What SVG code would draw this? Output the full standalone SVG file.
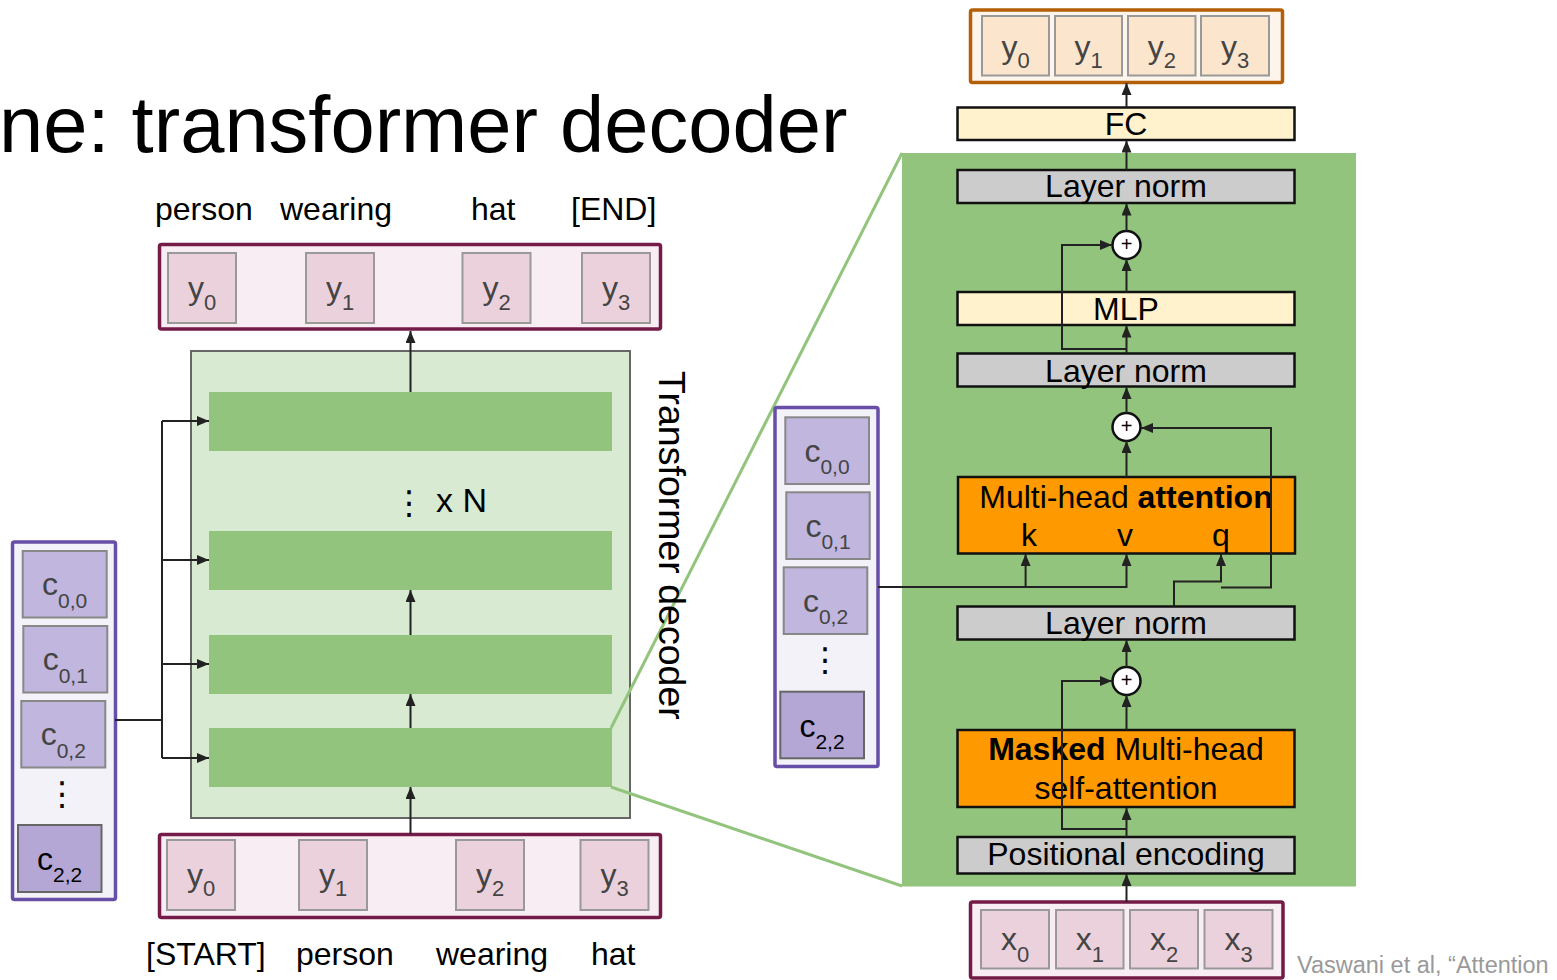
<svg xmlns="http://www.w3.org/2000/svg" width="1557" height="980" viewBox="0 0 1557 980">
<defs>
  <marker id="ah" viewBox="0 0 12 10" refX="12" refY="5" markerWidth="12" markerHeight="10" markerUnits="userSpaceOnUse" orient="auto">
    <path d="M0,0 L12,5 L0,10 z" fill="#222"/>
  </marker>
  <style>
    text { font-family: "Liberation Sans", Arial, sans-serif; }
    .lbl { font-size: 32px; fill: #000; }
    .bx { font-size: 32px; fill: #000; text-anchor: middle; }
    .tok { font-size: 32px; fill: #444; text-anchor: middle; }
    .tokd { font-size: 32px; fill: #000; text-anchor: middle; }
    .sub { font-size: 22px; }
    .csub { font-size: 21px; }
    .dots { font-family: "DejaVu Sans", sans-serif; font-size: 33px; fill: #000; text-anchor: middle; }
    .seqY { fill: #f8edf3; stroke: #741b47; stroke-width: 3.5; }
    .cellY { fill: #ead1dc; stroke: #999; stroke-width: 2; }
    .seqO { fill: #fdf4ec; stroke: #b45f06; stroke-width: 3.5; }
    .cellO { fill: #fce5cd; stroke: #999; stroke-width: 2; }
    .seqC { fill: #f3f2f8; stroke: #674ea7; stroke-width: 3.5; }
    .cellC { fill: #c0b6de; stroke: #888; stroke-width: 2; }
    .cellCd { fill: #b4a7d6; stroke: #666; stroke-width: 2; }
    .bar { fill: #93c47d; }
    .ln { fill: #cccccc; stroke: #111; stroke-width: 2.5; }
    .ff { fill: #fff2cc; stroke: #111; stroke-width: 2.5; }
    .att { fill: #ff9900; stroke: #111; stroke-width: 2.5; }
    .plus { fill: #fff; stroke: #111; stroke-width: 2.5; }
    .pt { font-size: 20px; fill: #000; text-anchor: middle; }
    .cn { fill: none; stroke: #222; stroke-width: 2; }
    .zoomline { stroke: #93c47d; stroke-width: 3; fill: none; }
  </style>
</defs>

<rect width="1557" height="980" fill="#fff"/>

<!-- slide title (partially off the left edge) -->
<text x="-1" y="152" style="font-size:79.5px" fill="#000">ne: transformer decoder</text>

<!-- expanded decoder block panel -->
<rect id="block-panel" x="902" y="153" width="454" height="733.5" fill="#93c47d"/>

<!-- ===== left: stacked decoder ===== -->
<g id="decoder-stack">
  <rect x="191" y="351" width="439" height="467" fill="#d9ead3" stroke="#666" stroke-width="2"/>
  <rect class="bar" x="209" y="392" width="403" height="59"/>
  <rect class="bar" x="209" y="531" width="403" height="59"/>
  <rect class="bar" x="209" y="635" width="403" height="59"/>
  <rect class="bar" x="209" y="728" width="403" height="59"/>
  <text class="dots" x="409" y="514">⋮</text>
  <text x="436" y="512" style="font-size:34px" fill="#000">x N</text>
</g>

<!-- lines tying one decoder layer to its expanded view -->
<g id="zoom-lines">
  <line class="zoomline" x1="611" y1="728" x2="902" y2="153"/>
  <line class="zoomline" x1="611" y1="787" x2="902" y2="886"/>
</g>

<text id="decoder-title" transform="translate(659,371) rotate(90)" style="font-size:37.5px" fill="#000">Transformer decoder</text>

<!-- output tokens -->
<g id="out-words">
  <text class="lbl" x="155" y="220">person</text>
  <text class="lbl" x="280" y="220">wearing</text>
  <text class="lbl" x="471" y="220">hat</text>
  <text class="lbl" x="571" y="220">[END]</text>
</g>
<g id="out-seq">
  <rect class="seqY" x="159.5" y="244.5" width="501" height="84.5" rx="2"/>
  <rect class="cellY" x="168" y="253" width="68" height="70"/>
  <rect class="cellY" x="306" y="253" width="68" height="70"/>
  <rect class="cellY" x="462.5" y="253" width="68" height="70"/>
  <rect class="cellY" x="582" y="253" width="68" height="70"/>
  <text class="tok" x="202" y="299">y<tspan class="sub" dy="11">0</tspan></text>
  <text class="tok" x="340" y="299">y<tspan class="sub" dy="11">1</tspan></text>
  <text class="tok" x="496.5" y="299">y<tspan class="sub" dy="11">2</tspan></text>
  <text class="tok" x="616" y="299">y<tspan class="sub" dy="11">3</tspan></text>
</g>

<!-- input tokens -->
<g id="in-seq">
  <rect class="seqY" x="159.5" y="834.5" width="501" height="83" rx="2"/>
  <rect class="cellY" x="167" y="840" width="68" height="70"/>
  <rect class="cellY" x="299" y="840" width="68" height="70"/>
  <rect class="cellY" x="456" y="840" width="68" height="70"/>
  <rect class="cellY" x="580.5" y="840" width="68" height="70"/>
  <text class="tok" x="201" y="886">y<tspan class="sub" dy="10">0</tspan></text>
  <text class="tok" x="333" y="886">y<tspan class="sub" dy="10">1</tspan></text>
  <text class="tok" x="490" y="886">y<tspan class="sub" dy="10">2</tspan></text>
  <text class="tok" x="614.5" y="886">y<tspan class="sub" dy="10">3</tspan></text>
</g>
<g id="in-words">
  <text class="lbl" x="146" y="965">[START]</text>
  <text class="lbl" x="296" y="965">person</text>
  <text class="lbl" x="436" y="965">wearing</text>
  <text class="lbl" x="591" y="965">hat</text>
</g>

<!-- image features, left -->
<g id="features-left">
  <rect class="seqC" x="12.5" y="542" width="103" height="357.5" rx="2"/>
  <rect class="cellC" x="22.7" y="551" width="84" height="66.5"/>
  <rect class="cellC" x="23.3" y="626" width="84" height="66.5"/>
  <rect class="cellC" x="21.3" y="701" width="84" height="66.5"/>
  <rect class="cellCd" x="18" y="825" width="83.5" height="67"/>
  <text class="tok" x="64.7" y="595">c<tspan class="csub" dy="13">0,0</tspan></text>
  <text class="tok" x="65.3" y="670">c<tspan class="csub" dy="13">0,1</tspan></text>
  <text class="tok" x="63.3" y="745">c<tspan class="csub" dy="13">0,2</tspan></text>
  <text class="dots" x="62" y="805">⋮</text>
  <text class="tokd" x="59.7" y="870">c<tspan class="csub" dy="12">2,2</tspan></text>
</g>

<!-- image features, middle -->
<g id="features-mid">
  <rect class="seqC" x="775" y="407.5" width="103" height="359" rx="2"/>
  <rect class="cellC" x="785.3" y="417.3" width="83.7" height="66.7"/>
  <rect class="cellC" x="786.3" y="492.3" width="83.4" height="66.7"/>
  <rect class="cellC" x="783.7" y="567.3" width="83.6" height="66.7"/>
  <rect class="cellCd" x="780.3" y="691.7" width="83.7" height="66.6"/>
  <text class="tok" x="827" y="462">c<tspan class="csub" dy="12">0,0</tspan></text>
  <text class="tok" x="828" y="537">c<tspan class="csub" dy="12">0,1</tspan></text>
  <text class="tok" x="825.5" y="612">c<tspan class="csub" dy="12">0,2</tspan></text>
  <text class="dots" x="825" y="671">⋮</text>
  <text class="tokd" x="822" y="737">c<tspan class="csub" dy="12">2,2</tspan></text>
</g>

<!-- ===== right: one decoder layer ===== -->
<g id="out-seq-right">
  <rect class="seqO" x="970.5" y="10" width="312" height="72.5" rx="2"/>
  <rect class="cellO" x="982" y="16" width="67" height="59.5"/>
  <rect class="cellO" x="1055" y="16" width="67" height="59.5"/>
  <rect class="cellO" x="1128" y="16" width="67.5" height="59.5"/>
  <rect class="cellO" x="1201" y="16" width="68" height="59.5"/>
  <text class="tok" x="1015.5" y="58">y<tspan class="sub" dy="10">0</tspan></text>
  <text class="tok" x="1088.5" y="58">y<tspan class="sub" dy="10">1</tspan></text>
  <text class="tok" x="1161.8" y="58">y<tspan class="sub" dy="10">2</tspan></text>
  <text class="tok" x="1235" y="58">y<tspan class="sub" dy="10">3</tspan></text>
</g>

<g id="fc">
  <rect class="ff" x="957.5" y="107.5" width="337" height="32.5"/>
  <text class="bx" x="1126" y="135">FC</text>
</g>
<g id="layernorm-3">
  <rect class="ln" x="957.5" y="170" width="337" height="33"/>
  <text class="bx" x="1126" y="197">Layer norm</text>
</g>
<g id="add-3">
  <circle class="plus" cx="1126.5" cy="245" r="14"/>
  <text class="pt" x="1126.5" y="251">+</text>
</g>
<g id="mlp">
  <rect class="ff" x="957.5" y="292" width="337" height="33"/>
  <text class="bx" x="1126" y="320">MLP</text>
</g>
<g id="layernorm-2">
  <rect class="ln" x="957.5" y="353.5" width="337" height="33"/>
  <text class="bx" x="1126" y="381.5">Layer norm</text>
</g>
<g id="add-2">
  <circle class="plus" cx="1126.5" cy="427" r="14"/>
  <text class="pt" x="1126.5" y="433">+</text>
</g>
<g id="cross-attention">
  <rect class="att" x="958" y="477" width="337" height="76.5"/>
  <text class="bx" x="1126" y="507.5">Multi-head <tspan font-weight="bold">attention</tspan></text>
  <text class="bx" x="1029" y="546">k</text>
  <text class="bx" x="1125" y="546">v</text>
  <text class="bx" x="1221" y="546">q</text>
</g>
<g id="layernorm-1">
  <rect class="ln" x="957.5" y="606.5" width="337" height="33"/>
  <text class="bx" x="1126" y="633.5">Layer norm</text>
</g>
<g id="add-1">
  <circle class="plus" cx="1126.5" cy="681" r="14"/>
  <text class="pt" x="1126.5" y="687">+</text>
</g>
<g id="masked-self-attention">
  <rect class="att" x="957.5" y="730" width="337" height="77"/>
  <text class="bx" x="1126" y="759.5"><tspan font-weight="bold">Masked</tspan> Multi-head</text>
  <text class="bx" x="1126" y="798.5">self-attention</text>
</g>
<g id="positional-encoding">
  <rect class="ln" x="957.5" y="837" width="337" height="36.5"/>
  <text class="bx" x="1126" y="865">Positional encoding</text>
</g>

<g id="in-seq-right">
  <rect class="seqY" x="970.5" y="902" width="312.5" height="76" rx="2"/>
  <rect class="cellY" x="981" y="910" width="68" height="58.5"/>
  <rect class="cellY" x="1056" y="910" width="67.5" height="58.5"/>
  <rect class="cellY" x="1130" y="910" width="68" height="58.5"/>
  <rect class="cellY" x="1204.5" y="910" width="68" height="58.5"/>
  <text class="tok" x="1015" y="950">x<tspan class="sub" dy="12">0</tspan></text>
  <text class="tok" x="1089.8" y="950">x<tspan class="sub" dy="12">1</tspan></text>
  <text class="tok" x="1164" y="950">x<tspan class="sub" dy="12">2</tspan></text>
  <text class="tok" x="1238.5" y="950">x<tspan class="sub" dy="12">3</tspan></text>
</g>

<text id="citation" x="1297" y="973" style="font-size:23.5px" fill="#999">Vaswani et al, “Attention</text>

<!-- ===== connectors ===== -->
<g id="connectors">
  <!-- left stack -->
  <path class="cn" d="M410.5,392 V331" marker-end="url(#ah)"/>
  <path class="cn" d="M410.5,635 V590" marker-end="url(#ah)"/>
  <path class="cn" d="M410.5,728 V694" marker-end="url(#ah)"/>
  <path class="cn" d="M410.5,834 V787" marker-end="url(#ah)"/>
  <path class="cn" d="M115,720 H162" stroke-width="3"/>
  <path class="cn" d="M162,421 V758"/>
  <path class="cn" d="M162,421 H209" marker-end="url(#ah)"/>
  <path class="cn" d="M162,560 H209" marker-end="url(#ah)"/>
  <path class="cn" d="M162,664 H209" marker-end="url(#ah)"/>
  <path class="cn" d="M162,758 H209" marker-end="url(#ah)"/>

  <!-- right layer -->
  <path class="cn" d="M1126.5,902 V874" marker-end="url(#ah)"/>
  <path class="cn" d="M1126.5,837 V808" marker-end="url(#ah)"/>
  <path class="cn" d="M1126.5,829 H1062 V681 H1112" marker-end="url(#ah)"/>
  <path class="cn" d="M1126.5,730 V695" marker-end="url(#ah)"/>
  <path class="cn" d="M1126.5,667 V640" marker-end="url(#ah)"/>
  <path class="cn" d="M1174,606.5 V581.5 H1221 V554" marker-end="url(#ah)"/>
  <path class="cn" d="M1221,587.5 H1271 V428 H1141" marker-end="url(#ah)"/>
  <path class="cn" d="M878,587 H1126.5 V554" marker-end="url(#ah)"/>
  <path class="cn" d="M1025.6,587 V554" marker-end="url(#ah)"/>
  <path class="cn" d="M1126.5,477 V441" marker-end="url(#ah)"/>
  <path class="cn" d="M1126.5,413 V387" marker-end="url(#ah)"/>
  <path class="cn" d="M1126.5,353.5 V325.5" marker-end="url(#ah)"/>
  <path class="cn" d="M1126.5,349 H1062 V245 H1112" marker-end="url(#ah)"/>
  <path class="cn" d="M1126.5,292 V259" marker-end="url(#ah)"/>
  <path class="cn" d="M1126.5,231 V203.5" marker-end="url(#ah)"/>
  <path class="cn" d="M1126.5,170 V140.5" marker-end="url(#ah)"/>
  <path class="cn" d="M1126.5,107.5 V83" marker-end="url(#ah)"/>
</g>
</svg>
